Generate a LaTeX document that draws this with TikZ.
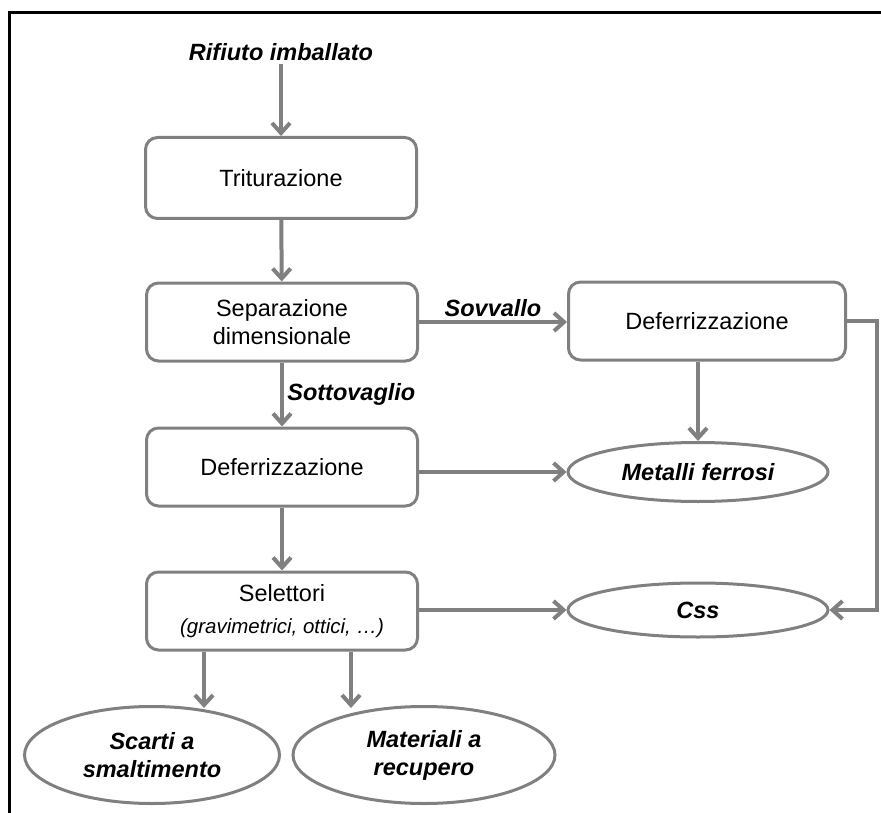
\documentclass[tikz,border=0pt]{standalone}
\usepackage{fontspec}
\setmainfont{Liberation Sans}
\usetikzlibrary{arrows.meta, positioning, shapes.geometric}
\definecolor{flgray}{RGB}{128,128,128}

\begin{document}
\begin{tikzpicture}[x=1pt, y=-1pt,
    every node/.style={font=\fontsize{23.5}{28}\selectfont},
    stepbox/.style={rounded corners=12pt, draw=flgray, line width=3pt,
      minimum width=271pt, minimum height=78pt, align=center, inner sep=0pt},
    outbox/.style={ellipse, draw=flgray, line width=3pt, align=center,
      inner sep=0pt, font=\fontsize{23.5}{28}\selectfont\bfseries\itshape},
    flow/.style={draw=flgray, line width=4pt,
      -{Straight Barb[length=10pt,width=18pt]}},
    lbl/.style={font=\fontsize{23.5}{28}\selectfont\bfseries\itshape}]
  \useasboundingbox (0,0) rectangle (881,813);

  % Frame
  \draw[black, line width=3pt] (9.5,813) -- (9.5,12.5) -- (881,12.5);

  % Main line
  \node[lbl] (input) at (281,52) {Rifiuto imballato};
  \node[stepbox, minimum height=81pt] (trit) at (281,178) {Triturazione};
  \node[stepbox] (sep) at (282,322) {Separazione\\dimensionale};
  \node[stepbox] (defL) at (282,467) {Deferrizzazione};
  \node[stepbox] (sel) at (282,611)
    {Selettori\\[4pt]{\fontsize{20.5}{24}\selectfont\itshape (gravimetrici, ottici, \dots)}};

  % Side branch
  \node[stepbox, minimum width=277pt] (defR) at (707,321) {Deferrizzazione};
  \coordinate (rail) at (877,0);

  % Outputs
  \node[outbox, minimum width=260pt, minimum height=59pt] (metal) at (698,472) {Metalli ferrosi};
  \node[outbox, minimum width=260pt, minimum height=54pt] (css) at (698,610) {Css};
  \node[outbox, minimum width=255pt, minimum height=97pt] (scarti) at (152,755) {Scarti a\\smaltimento};
  \node[outbox, minimum width=262pt, minimum height=97pt] (recup) at (424,755) {Materiali a\\recupero};

  % Flows
  \draw[flow] (input) -- (trit);
  \draw[flow] (trit) -- (sep);
  \draw[flow] (sep.east) -- (sep.east -| defR.west)
    node[midway, above, lbl] {Sovvallo};
  \draw[flow] (sep) -- (defL)
    node[midway, right, lbl] {Sottovaglio};
  \draw[flow] (metal.north |- defR.south) -- (metal.north);
  \draw[flow] (defL.east |- metal.west) -- (metal.west);
  \draw[flow] (defL) -- (sel);
  \draw[flow] (sel.east |- css.west) -- (css.west);
  \draw[flow] (defR.east) -- (defR.east -| rail) -- (rail |- css.east) -- (css.east);
  \draw[flow, shorten >=-3pt] ([xshift=-78pt]sel.south) -- ([xshift=-78pt]sel.south |- scarti.north);
  \draw[flow, shorten >=-3pt] ([xshift=69pt]sel.south) -- ([xshift=69pt]sel.south |- recup.north);
\end{tikzpicture}
\end{document}
